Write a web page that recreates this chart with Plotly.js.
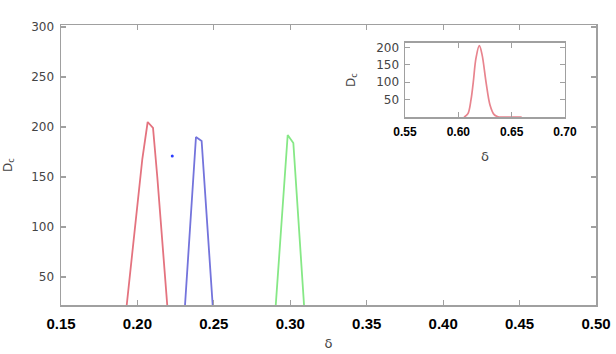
<!DOCTYPE html>
<html>
<head>
<meta charset="utf-8">
<script src="https://cdn.plot.ly/plotly-3.0.1.min.js"></script>
<style>
  html, body { margin: 0; padding: 0; background: white; }
  #chart { width: 616px; height: 354px; }
</style>
</head>
<body>
<div id="chart"></div>
<script>
// Three sharp D_c peaks against delta, plus an inset with the wider-delta peak.
const redX = [0.1918, 0.1930, 0.2032, 0.2067, 0.2102, 0.2130, 0.2195, 0.2207];
const redY = [0, 22, 168, 205, 199, 150, 22, 0];
const blueX = [0.2302, 0.2311, 0.2383, 0.2420, 0.2496, 0.2502];
const blueY = [0, 22, 190, 186, 22, 0];
const greenX = [0.2898, 0.2905, 0.2983, 0.3020, 0.3090, 0.3095];
const greenY = [0, 22, 192, 184, 22, 0];
const dotX = [0.2228];
const dotY = [171];

const insetX = [0.6053, 0.6090, 0.6119, 0.6140, 0.6166, 0.6197, 0.6222, 0.6260, 0.6297, 0.6334, 0.6372, 0.6420, 0.6594];
const insetY = [0, 10, 50, 100, 170, 205, 180, 100, 35, 8, 1, 0, 0];

const mainXTicks = [0.15, 0.20, 0.25, 0.30, 0.35, 0.40, 0.45, 0.50];
const mainYTicks = [50, 100, 150, 200, 250, 300];
const insetXTicks = [0.55, 0.60, 0.65, 0.70];
const insetYTicks = [50, 100, 150, 200];

const RED = "#e4737f", BLUE = "#7474dc", GREEN = "#86e886";
const AXIS = "#a0a0a0";

const traces = [
  { x: redX, y: redY, type: "scatter", mode: "lines", line: { color: RED, width: 1.8 }, hoverinfo: "skip" },
  { x: blueX, y: blueY, type: "scatter", mode: "lines", line: { color: BLUE, width: 1.8 }, hoverinfo: "skip" },
  { x: greenX, y: greenY, type: "scatter", mode: "lines", line: { color: GREEN, width: 1.8 }, hoverinfo: "skip" },
  { x: dotX, y: dotY, type: "scatter", mode: "markers", marker: { color: "#2a3cff", size: 3 }, hoverinfo: "skip" },
  { x: insetX, y: insetY, type: "scatter", mode: "lines", line: { color: "#e8848e", width: 1.7, shape: "spline" },
    xaxis: "x2", yaxis: "y2", hoverinfo: "skip" },
];

const tickFontY = { family: "DejaVu Sans, sans-serif", size: 12, color: "#444" };
const tickFontX = { family: "Liberation Sans, Arial, sans-serif", size: 15, color: "#000", weight: "bold" };

const axisCommon = {
  showline: true, linecolor: AXIS, linewidth: 1.5, mirror: "ticks",
  ticks: "inside", ticklen: 5, tickcolor: AXIS, tickwidth: 1.2,
  showgrid: false, zeroline: false,
};

const layout = {
  width: 616, height: 354,
  margin: { l: 61, r: 20, t: 25, b: 49 },
  paper_bgcolor: "white", plot_bgcolor: "white",
  showlegend: false,
  xaxis: {
    ...axisCommon, range: [0.15, 0.50], tickvals: mainXTicks,
    ticktext: mainXTicks.map((v) => v.toFixed(2)),
    tickfont: tickFontX, ticklabelstandoff: 4,
    title: { text: "δ", font: { family: "DejaVu Sans, sans-serif", size: 13, color: "#444" }, standoff: 8 },
  },
  yaxis: {
    ...axisCommon, range: [22, 302], tickvals: mainYTicks,
    tickfont: tickFontY, ticklabelstandoff: 3,
    title: { text: "D<sub>c</sub>", font: { family: "DejaVu Sans, sans-serif", size: 12, color: "#444" }, standoff: 16 },
  },
  xaxis2: {
    ...axisCommon, anchor: "y2", domain: [0.643, 0.942], range: [0.55, 0.70],
    tickvals: insetXTicks, ticktext: insetXTicks.map((v) => v.toFixed(2)),
    tickfont: { family: "Liberation Sans, Arial, sans-serif", size: 12, color: "#000", weight: "bold" },
    ticklabelstandoff: 3,
    title: { text: "δ", font: { family: "DejaVu Sans, sans-serif", size: 13, color: "#444" }, standoff: 14 },
  },
  yaxis2: {
    ...axisCommon, anchor: "x2", domain: [0.671, 0.936], range: [0, 213],
    tickvals: insetYTicks, tickfont: tickFontY, ticklabelstandoff: 2,
    title: { text: "D<sub>c</sub>", font: { family: "DejaVu Sans, sans-serif", size: 12, color: "#444" }, standoff: 18 },
  },
};

Plotly.newPlot("chart", traces, layout, { displayModeBar: false, staticPlot: true });
</script>
</body>
</html>
